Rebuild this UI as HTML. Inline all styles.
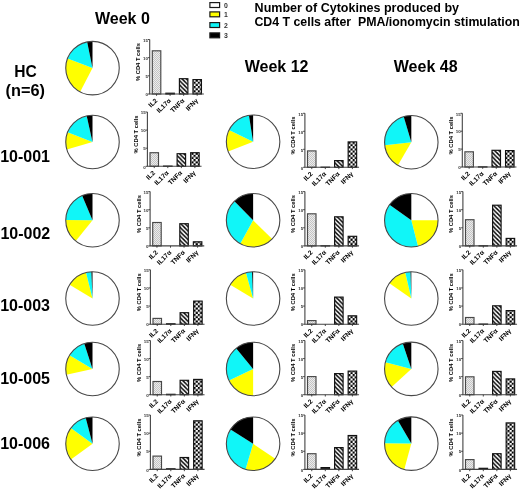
<!DOCTYPE html>
<html><head><meta charset="utf-8"><style>
html,body{margin:0;padding:0;background:#fff;}
svg{display:block;font-family:"Liberation Sans",sans-serif;will-change:transform;}
</style></head><body>
<svg width="520" height="489" viewBox="0 0 520 489">
<defs>
<pattern id="pIL2" width="2" height="2" patternUnits="userSpaceOnUse"><rect width="2" height="2" fill="#ececec"/><rect width="1" height="1" fill="#c4c4c4"/><rect x="1" y="1" width="1" height="1" fill="#c4c4c4"/></pattern>
<pattern id="pTNF" width="4.3" height="4.3" patternUnits="userSpaceOnUse"><rect width="4.3" height="4.3" fill="#fff"/><path d="M-1,-1 L5.3,5.3 M-1,3.3 L1,5.3 M3.3,-1 L5.3,1" stroke="#000" stroke-width="1.38"/></pattern>
<pattern id="pIFN" width="4.3" height="4.3" patternUnits="userSpaceOnUse"><rect width="4.3" height="4.3" fill="#fff"/><rect width="2.15" height="2.15" fill="#000"/><rect x="2.15" y="2.15" width="2.15" height="2.15" fill="#000"/></pattern>
</defs>
<rect width="520" height="489" fill="#fff"/>
<circle cx="92.5" cy="68.1" r="26.75" fill="#fff"/><path d="M92.50,68.10L80.19,91.85A26.75,26.75 0 0 1 67.53,58.51Z" fill="#ffff00"/><path d="M92.50,68.10L67.53,58.51A26.75,26.75 0 0 1 87.17,41.89Z" fill="#10f6f8"/><path d="M92.50,68.10L87.17,41.89A26.75,26.75 0 0 1 92.50,41.35Z" fill="#000000"/><circle cx="92.5" cy="68.1" r="26.75" fill="none" stroke="#484848" stroke-width="1.1"/><circle cx="92.5" cy="142.0" r="26.75" fill="#fff"/><path d="M92.50,142.00L66.84,149.55A26.75,26.75 0 0 1 67.63,132.15Z" fill="#ffff00"/><path d="M92.50,142.00L67.63,132.15A26.75,26.75 0 0 1 86.71,115.88Z" fill="#10f6f8"/><path d="M92.50,142.00L86.71,115.88A26.75,26.75 0 0 1 92.50,115.25Z" fill="#000000"/><circle cx="92.5" cy="142.0" r="26.75" fill="none" stroke="#484848" stroke-width="1.1"/><circle cx="92.5" cy="220.2" r="26.75" fill="#fff"/><path d="M92.50,220.20L75.77,241.08A26.75,26.75 0 0 1 65.75,219.92Z" fill="#ffff00"/><path d="M92.50,220.20L65.75,219.92A26.75,26.75 0 0 1 82.09,195.56Z" fill="#10f6f8"/><path d="M92.50,220.20L82.09,195.56A26.75,26.75 0 0 1 92.50,193.45Z" fill="#000000"/><circle cx="92.5" cy="220.2" r="26.75" fill="none" stroke="#484848" stroke-width="1.1"/><circle cx="92.5" cy="298.5" r="26.75" fill="#fff"/><path d="M92.50,298.50L69.62,284.64A26.75,26.75 0 0 1 86.03,272.54Z" fill="#ffff00"/><path d="M92.50,298.50L86.03,272.54A26.75,26.75 0 0 1 91.38,271.77Z" fill="#10f6f8"/><path d="M92.50,298.50L91.38,271.77A26.75,26.75 0 0 1 92.50,271.75Z" fill="#000000"/><circle cx="92.5" cy="298.5" r="26.75" fill="none" stroke="#484848" stroke-width="1.1"/><circle cx="92.5" cy="369.0" r="26.75" fill="#fff"/><path d="M92.50,369.00L66.37,374.74A26.75,26.75 0 0 1 69.62,355.14Z" fill="#ffff00"/><path d="M92.50,369.00L69.62,355.14A26.75,26.75 0 0 1 84.23,343.56Z" fill="#10f6f8"/><path d="M92.50,369.00L84.23,343.56A26.75,26.75 0 0 1 92.50,342.25Z" fill="#000000"/><circle cx="92.5" cy="369.0" r="26.75" fill="none" stroke="#484848" stroke-width="1.1"/><circle cx="92.5" cy="443.7" r="26.75" fill="#fff"/><path d="M92.50,443.70L70.89,459.46A26.75,26.75 0 0 1 70.83,428.01Z" fill="#ffff00"/><path d="M92.50,443.70L70.83,428.01A26.75,26.75 0 0 1 85.67,417.84Z" fill="#10f6f8"/><path d="M92.50,443.70L85.67,417.84A26.75,26.75 0 0 1 92.50,416.95Z" fill="#000000"/><circle cx="92.5" cy="443.7" r="26.75" fill="none" stroke="#484848" stroke-width="1.1"/><circle cx="253.1" cy="141.7" r="26.75" fill="#fff"/><path d="M253.10,141.70L228.21,151.50A26.75,26.75 0 0 1 229.04,130.02Z" fill="#ffff00"/><path d="M253.10,141.70L229.04,130.02A26.75,26.75 0 0 1 248.92,115.28Z" fill="#10f6f8"/><path d="M253.10,141.70L248.92,115.28A26.75,26.75 0 0 1 253.10,114.95Z" fill="#000000"/><circle cx="253.1" cy="141.7" r="26.75" fill="none" stroke="#484848" stroke-width="1.1"/><circle cx="253.1" cy="220.3" r="26.75" fill="#fff"/><path d="M253.10,220.30L272.24,238.98A26.75,26.75 0 0 1 240.25,243.76Z" fill="#ffff00"/><path d="M253.10,220.30L240.25,243.76A26.75,26.75 0 0 1 234.42,201.16Z" fill="#10f6f8"/><path d="M253.10,220.30L234.42,201.16A26.75,26.75 0 0 1 253.10,193.55Z" fill="#000000"/><circle cx="253.1" cy="220.3" r="26.75" fill="none" stroke="#484848" stroke-width="1.1"/><circle cx="253.1" cy="298.5" r="26.75" fill="#fff"/><path d="M253.10,298.50L230.22,284.64A26.75,26.75 0 0 1 245.95,272.72Z" fill="#ffff00"/><path d="M253.10,298.50L245.95,272.72A26.75,26.75 0 0 1 252.07,271.77Z" fill="#10f6f8"/><path d="M253.10,298.50L252.07,271.77A26.75,26.75 0 0 1 253.10,271.75Z" fill="#000000"/><circle cx="253.1" cy="298.5" r="26.75" fill="none" stroke="#484848" stroke-width="1.1"/><circle cx="253.1" cy="369.0" r="26.75" fill="#fff"/><path d="M253.10,369.00L253.10,395.75A26.75,26.75 0 0 1 229.00,380.60Z" fill="#ffff00"/><path d="M253.10,369.00L229.00,380.60A26.75,26.75 0 0 1 236.08,348.36Z" fill="#10f6f8"/><path d="M253.10,369.00L236.08,348.36A26.75,26.75 0 0 1 253.10,342.25Z" fill="#000000"/><circle cx="253.1" cy="369.0" r="26.75" fill="none" stroke="#484848" stroke-width="1.1"/><circle cx="253.1" cy="443.8" r="26.75" fill="#fff"/><path d="M253.10,443.80L275.28,458.76A26.75,26.75 0 0 1 245.50,469.45Z" fill="#ffff00"/><path d="M253.10,443.80L245.50,469.45A26.75,26.75 0 0 1 230.54,429.43Z" fill="#10f6f8"/><path d="M253.10,443.80L230.54,429.43A26.75,26.75 0 0 1 253.10,417.05Z" fill="#000000"/><circle cx="253.1" cy="443.8" r="26.75" fill="none" stroke="#484848" stroke-width="1.1"/><circle cx="411.3" cy="142.2" r="26.75" fill="#fff"/><path d="M411.30,142.20L397.93,165.37A26.75,26.75 0 0 1 384.74,145.37Z" fill="#ffff00"/><path d="M411.30,142.20L384.74,145.37A26.75,26.75 0 0 1 403.66,116.56Z" fill="#10f6f8"/><path d="M411.30,142.20L403.66,116.56A26.75,26.75 0 0 1 411.30,115.45Z" fill="#000000"/><circle cx="411.3" cy="142.2" r="26.75" fill="none" stroke="#484848" stroke-width="1.1"/><circle cx="411.3" cy="220.3" r="26.75" fill="#fff"/><path d="M411.30,220.30L438.05,220.30A26.75,26.75 0 0 1 417.95,246.21Z" fill="#ffff00"/><path d="M411.30,220.30L417.95,246.21A26.75,26.75 0 0 1 389.50,204.80Z" fill="#10f6f8"/><path d="M411.30,220.30L389.50,204.80A26.75,26.75 0 0 1 411.30,193.55Z" fill="#000000"/><circle cx="411.3" cy="220.3" r="26.75" fill="none" stroke="#484848" stroke-width="1.1"/><circle cx="411.3" cy="298.5" r="26.75" fill="#fff"/><path d="M411.30,298.50L389.39,283.16A26.75,26.75 0 0 1 405.28,272.44Z" fill="#ffff00"/><path d="M411.30,298.50L405.28,272.44A26.75,26.75 0 0 1 410.55,271.76Z" fill="#10f6f8"/><path d="M411.30,298.50L410.55,271.76A26.75,26.75 0 0 1 411.30,271.75Z" fill="#000000"/><circle cx="411.3" cy="298.5" r="26.75" fill="none" stroke="#484848" stroke-width="1.1"/><circle cx="411.3" cy="368.9" r="26.75" fill="#fff"/><path d="M411.30,368.90L391.64,387.04A26.75,26.75 0 0 1 385.41,362.16Z" fill="#ffff00"/><path d="M411.30,368.90L385.41,362.16A26.75,26.75 0 0 1 402.77,343.55Z" fill="#10f6f8"/><path d="M411.30,368.90L402.77,343.55A26.75,26.75 0 0 1 411.30,342.15Z" fill="#000000"/><circle cx="411.3" cy="368.9" r="26.75" fill="none" stroke="#484848" stroke-width="1.1"/><circle cx="411.3" cy="443.6" r="26.75" fill="#fff"/><path d="M411.30,443.60L404.24,469.40A26.75,26.75 0 0 1 384.55,443.32Z" fill="#ffff00"/><path d="M411.30,443.60L384.55,443.32A26.75,26.75 0 0 1 397.84,420.48Z" fill="#10f6f8"/><path d="M411.30,443.60L397.84,420.48A26.75,26.75 0 0 1 411.30,416.85Z" fill="#000000"/><circle cx="411.3" cy="443.6" r="26.75" fill="none" stroke="#484848" stroke-width="1.1"/><rect x="152.30" y="50.80" width="8.50" height="43.20" fill="url(#pIL2)" stroke="#484848" stroke-width="1.15"/><rect x="165.85" y="93.20" width="8.50" height="0.80" fill="#222" stroke="#111" stroke-width="1.15"/><rect x="179.40" y="78.70" width="8.50" height="15.30" fill="url(#pTNF)" stroke="#111" stroke-width="1.15"/><rect x="192.95" y="79.60" width="8.50" height="14.40" fill="url(#pIFN)" stroke="#111" stroke-width="1.15"/><path d="M149.70,39.50V94.00H203.85" fill="none" stroke="#444" stroke-width="1.1"/><path d="M147.90,94.00H149.70" stroke="#333" stroke-width="0.9"/><text transform="translate(148.00,96.20) scale(0.1)" font-size="44" text-anchor="end" font-weight="bold" fill="#333">0</text><path d="M147.90,75.83H149.70" stroke="#333" stroke-width="0.9"/><text transform="translate(148.00,78.03) scale(0.1)" font-size="44" text-anchor="end" font-weight="bold" fill="#333">5</text><path d="M147.90,57.67H149.70" stroke="#333" stroke-width="0.9"/><text transform="translate(148.00,59.87) scale(0.1)" font-size="44" text-anchor="end" font-weight="bold" fill="#333">10</text><path d="M147.90,39.50H149.70" stroke="#333" stroke-width="0.9"/><text transform="translate(148.00,41.70) scale(0.1)" font-size="44" text-anchor="end" font-weight="bold" fill="#333">15</text><path d="M156.55,94.00V95.80" stroke="#333" stroke-width="0.9"/><text transform="translate(157.85,101.10) rotate(-45)" font-size="6.6" text-anchor="end" font-weight="bold">IL2</text><path d="M170.10,94.00V95.80" stroke="#333" stroke-width="0.9"/><text transform="translate(171.40,101.10) rotate(-45)" font-size="6.6" text-anchor="end" font-weight="bold">IL17α</text><path d="M183.65,94.00V95.80" stroke="#333" stroke-width="0.9"/><text transform="translate(184.95,101.10) rotate(-45)" font-size="6.6" text-anchor="end" font-weight="bold">TNFα</text><path d="M197.20,94.00V95.80" stroke="#333" stroke-width="0.9"/><text transform="translate(198.50,101.10) rotate(-45)" font-size="6.6" text-anchor="end" font-weight="bold">IFNγ</text><text transform="translate(140.10,62.05) rotate(-90)" font-size="5.8" text-anchor="middle" font-weight="bold">% CD4 T cells</text><rect x="150.00" y="152.70" width="8.50" height="13.60" fill="url(#pIL2)" stroke="#484848" stroke-width="1.15"/><rect x="163.55" y="166.10" width="8.50" height="0.20" fill="#222" stroke="#111" stroke-width="1.15"/><rect x="177.10" y="153.70" width="8.50" height="12.60" fill="url(#pTNF)" stroke="#111" stroke-width="1.15"/><rect x="190.65" y="152.70" width="8.50" height="13.60" fill="url(#pIFN)" stroke="#111" stroke-width="1.15"/><path d="M147.40,112.00V166.30H201.55" fill="none" stroke="#444" stroke-width="1.1"/><path d="M145.60,166.30H147.40" stroke="#333" stroke-width="0.9"/><text transform="translate(145.70,168.50) scale(0.1)" font-size="44" text-anchor="end" font-weight="bold" fill="#333">0</text><path d="M145.60,148.20H147.40" stroke="#333" stroke-width="0.9"/><text transform="translate(145.70,150.40) scale(0.1)" font-size="44" text-anchor="end" font-weight="bold" fill="#333">5</text><path d="M145.60,130.10H147.40" stroke="#333" stroke-width="0.9"/><text transform="translate(145.70,132.30) scale(0.1)" font-size="44" text-anchor="end" font-weight="bold" fill="#333">10</text><path d="M145.60,112.00H147.40" stroke="#333" stroke-width="0.9"/><text transform="translate(145.70,114.20) scale(0.1)" font-size="44" text-anchor="end" font-weight="bold" fill="#333">15</text><path d="M154.25,166.30V168.10" stroke="#333" stroke-width="0.9"/><text transform="translate(155.55,173.40) rotate(-45)" font-size="6.6" text-anchor="end" font-weight="bold">IL2</text><path d="M167.80,166.30V168.10" stroke="#333" stroke-width="0.9"/><text transform="translate(169.10,173.40) rotate(-45)" font-size="6.6" text-anchor="end" font-weight="bold">IL17α</text><path d="M181.35,166.30V168.10" stroke="#333" stroke-width="0.9"/><text transform="translate(182.65,173.40) rotate(-45)" font-size="6.6" text-anchor="end" font-weight="bold">TNFα</text><path d="M194.90,166.30V168.10" stroke="#333" stroke-width="0.9"/><text transform="translate(196.20,173.40) rotate(-45)" font-size="6.6" text-anchor="end" font-weight="bold">IFNγ</text><text transform="translate(137.80,134.45) rotate(-90)" font-size="5.8" text-anchor="middle" font-weight="bold">% CD4 T cells</text><rect x="152.70" y="222.50" width="8.50" height="23.40" fill="url(#pIL2)" stroke="#484848" stroke-width="1.15"/><rect x="179.80" y="223.70" width="8.50" height="22.20" fill="url(#pTNF)" stroke="#111" stroke-width="1.15"/><rect x="193.35" y="241.80" width="8.50" height="4.10" fill="url(#pIFN)" stroke="#111" stroke-width="1.15"/><path d="M150.10,191.60V245.90H204.25" fill="none" stroke="#444" stroke-width="1.1"/><path d="M148.30,245.90H150.10" stroke="#333" stroke-width="0.9"/><text transform="translate(148.40,248.10) scale(0.1)" font-size="44" text-anchor="end" font-weight="bold" fill="#333">0</text><path d="M148.30,227.80H150.10" stroke="#333" stroke-width="0.9"/><text transform="translate(148.40,230.00) scale(0.1)" font-size="44" text-anchor="end" font-weight="bold" fill="#333">5</text><path d="M148.30,209.70H150.10" stroke="#333" stroke-width="0.9"/><text transform="translate(148.40,211.90) scale(0.1)" font-size="44" text-anchor="end" font-weight="bold" fill="#333">10</text><path d="M148.30,191.60H150.10" stroke="#333" stroke-width="0.9"/><text transform="translate(148.40,193.80) scale(0.1)" font-size="44" text-anchor="end" font-weight="bold" fill="#333">15</text><path d="M156.95,245.90V247.70" stroke="#333" stroke-width="0.9"/><text transform="translate(158.25,253.00) rotate(-45)" font-size="6.6" text-anchor="end" font-weight="bold">IL2</text><path d="M170.50,245.90V247.70" stroke="#333" stroke-width="0.9"/><text transform="translate(171.80,253.00) rotate(-45)" font-size="6.6" text-anchor="end" font-weight="bold">IL17α</text><path d="M184.05,245.90V247.70" stroke="#333" stroke-width="0.9"/><text transform="translate(185.35,253.00) rotate(-45)" font-size="6.6" text-anchor="end" font-weight="bold">TNFα</text><path d="M197.60,245.90V247.70" stroke="#333" stroke-width="0.9"/><text transform="translate(198.90,253.00) rotate(-45)" font-size="6.6" text-anchor="end" font-weight="bold">IFNγ</text><text transform="translate(140.50,214.05) rotate(-90)" font-size="5.8" text-anchor="middle" font-weight="bold">% CD4 T cells</text><rect x="153.00" y="318.40" width="8.50" height="5.80" fill="url(#pIL2)" stroke="#484848" stroke-width="1.15"/><rect x="166.55" y="323.80" width="8.50" height="0.40" fill="#222" stroke="#111" stroke-width="1.15"/><rect x="180.10" y="312.70" width="8.50" height="11.50" fill="url(#pTNF)" stroke="#111" stroke-width="1.15"/><rect x="193.65" y="301.10" width="8.50" height="23.10" fill="url(#pIFN)" stroke="#111" stroke-width="1.15"/><path d="M150.40,269.80V324.20H204.55" fill="none" stroke="#444" stroke-width="1.1"/><path d="M148.60,324.20H150.40" stroke="#333" stroke-width="0.9"/><text transform="translate(148.70,326.40) scale(0.1)" font-size="44" text-anchor="end" font-weight="bold" fill="#333">0</text><path d="M148.60,306.07H150.40" stroke="#333" stroke-width="0.9"/><text transform="translate(148.70,308.27) scale(0.1)" font-size="44" text-anchor="end" font-weight="bold" fill="#333">5</text><path d="M148.60,287.93H150.40" stroke="#333" stroke-width="0.9"/><text transform="translate(148.70,290.13) scale(0.1)" font-size="44" text-anchor="end" font-weight="bold" fill="#333">10</text><path d="M148.60,269.80H150.40" stroke="#333" stroke-width="0.9"/><text transform="translate(148.70,272.00) scale(0.1)" font-size="44" text-anchor="end" font-weight="bold" fill="#333">15</text><path d="M157.25,324.20V326.00" stroke="#333" stroke-width="0.9"/><text transform="translate(158.55,331.30) rotate(-45)" font-size="6.6" text-anchor="end" font-weight="bold">IL2</text><path d="M170.80,324.20V326.00" stroke="#333" stroke-width="0.9"/><text transform="translate(172.10,331.30) rotate(-45)" font-size="6.6" text-anchor="end" font-weight="bold">IL17α</text><path d="M184.35,324.20V326.00" stroke="#333" stroke-width="0.9"/><text transform="translate(185.65,331.30) rotate(-45)" font-size="6.6" text-anchor="end" font-weight="bold">TNFα</text><path d="M197.90,324.20V326.00" stroke="#333" stroke-width="0.9"/><text transform="translate(199.20,331.30) rotate(-45)" font-size="6.6" text-anchor="end" font-weight="bold">IFNγ</text><text transform="translate(140.80,292.30) rotate(-90)" font-size="5.8" text-anchor="middle" font-weight="bold">% CD4 T cells</text><rect x="153.00" y="381.50" width="8.50" height="13.20" fill="url(#pIL2)" stroke="#484848" stroke-width="1.15"/><rect x="166.55" y="394.30" width="8.50" height="0.40" fill="#222" stroke="#111" stroke-width="1.15"/><rect x="180.10" y="380.30" width="8.50" height="14.40" fill="url(#pTNF)" stroke="#111" stroke-width="1.15"/><rect x="193.65" y="379.40" width="8.50" height="15.30" fill="url(#pIFN)" stroke="#111" stroke-width="1.15"/><path d="M150.40,340.50V394.70H204.55" fill="none" stroke="#444" stroke-width="1.1"/><path d="M148.60,394.70H150.40" stroke="#333" stroke-width="0.9"/><text transform="translate(148.70,396.90) scale(0.1)" font-size="44" text-anchor="end" font-weight="bold" fill="#333">0</text><path d="M148.60,376.63H150.40" stroke="#333" stroke-width="0.9"/><text transform="translate(148.70,378.83) scale(0.1)" font-size="44" text-anchor="end" font-weight="bold" fill="#333">5</text><path d="M148.60,358.57H150.40" stroke="#333" stroke-width="0.9"/><text transform="translate(148.70,360.77) scale(0.1)" font-size="44" text-anchor="end" font-weight="bold" fill="#333">10</text><path d="M148.60,340.50H150.40" stroke="#333" stroke-width="0.9"/><text transform="translate(148.70,342.70) scale(0.1)" font-size="44" text-anchor="end" font-weight="bold" fill="#333">15</text><path d="M157.25,394.70V396.50" stroke="#333" stroke-width="0.9"/><text transform="translate(158.55,401.80) rotate(-45)" font-size="6.6" text-anchor="end" font-weight="bold">IL2</text><path d="M170.80,394.70V396.50" stroke="#333" stroke-width="0.9"/><text transform="translate(172.10,401.80) rotate(-45)" font-size="6.6" text-anchor="end" font-weight="bold">IL17α</text><path d="M184.35,394.70V396.50" stroke="#333" stroke-width="0.9"/><text transform="translate(185.65,401.80) rotate(-45)" font-size="6.6" text-anchor="end" font-weight="bold">TNFα</text><path d="M197.90,394.70V396.50" stroke="#333" stroke-width="0.9"/><text transform="translate(199.20,401.80) rotate(-45)" font-size="6.6" text-anchor="end" font-weight="bold">IFNγ</text><text transform="translate(140.80,362.90) rotate(-90)" font-size="5.8" text-anchor="middle" font-weight="bold">% CD4 T cells</text><rect x="153.00" y="456.10" width="8.50" height="13.30" fill="url(#pIL2)" stroke="#484848" stroke-width="1.15"/><rect x="166.55" y="468.80" width="8.50" height="0.60" fill="#222" stroke="#111" stroke-width="1.15"/><rect x="180.10" y="457.50" width="8.50" height="11.90" fill="url(#pTNF)" stroke="#111" stroke-width="1.15"/><rect x="193.65" y="420.80" width="8.50" height="48.60" fill="url(#pIFN)" stroke="#111" stroke-width="1.15"/><path d="M150.40,415.00V469.40H204.55" fill="none" stroke="#444" stroke-width="1.1"/><path d="M148.60,469.40H150.40" stroke="#333" stroke-width="0.9"/><text transform="translate(148.70,471.60) scale(0.1)" font-size="44" text-anchor="end" font-weight="bold" fill="#333">0</text><path d="M148.60,451.27H150.40" stroke="#333" stroke-width="0.9"/><text transform="translate(148.70,453.47) scale(0.1)" font-size="44" text-anchor="end" font-weight="bold" fill="#333">5</text><path d="M148.60,433.13H150.40" stroke="#333" stroke-width="0.9"/><text transform="translate(148.70,435.33) scale(0.1)" font-size="44" text-anchor="end" font-weight="bold" fill="#333">10</text><path d="M148.60,415.00H150.40" stroke="#333" stroke-width="0.9"/><text transform="translate(148.70,417.20) scale(0.1)" font-size="44" text-anchor="end" font-weight="bold" fill="#333">15</text><path d="M157.25,469.40V471.20" stroke="#333" stroke-width="0.9"/><text transform="translate(158.55,476.50) rotate(-45)" font-size="6.6" text-anchor="end" font-weight="bold">IL2</text><path d="M170.80,469.40V471.20" stroke="#333" stroke-width="0.9"/><text transform="translate(172.10,476.50) rotate(-45)" font-size="6.6" text-anchor="end" font-weight="bold">IL17α</text><path d="M184.35,469.40V471.20" stroke="#333" stroke-width="0.9"/><text transform="translate(185.65,476.50) rotate(-45)" font-size="6.6" text-anchor="end" font-weight="bold">TNFα</text><path d="M197.90,469.40V471.20" stroke="#333" stroke-width="0.9"/><text transform="translate(199.20,476.50) rotate(-45)" font-size="6.6" text-anchor="end" font-weight="bold">IFNγ</text><text transform="translate(140.80,437.50) rotate(-90)" font-size="5.8" text-anchor="middle" font-weight="bold">% CD4 T cells</text><rect x="307.50" y="150.90" width="8.50" height="16.40" fill="url(#pIL2)" stroke="#484848" stroke-width="1.15"/><rect x="321.05" y="167.20" width="8.50" height="0.10" fill="#222" stroke="#111" stroke-width="1.15"/><rect x="334.60" y="160.60" width="8.50" height="6.70" fill="url(#pTNF)" stroke="#111" stroke-width="1.15"/><rect x="348.15" y="141.90" width="8.50" height="25.40" fill="url(#pIFN)" stroke="#111" stroke-width="1.15"/><path d="M304.90,113.30V167.30H359.05" fill="none" stroke="#444" stroke-width="1.1"/><path d="M303.10,167.30H304.90" stroke="#333" stroke-width="0.9"/><text transform="translate(303.20,169.50) scale(0.1)" font-size="44" text-anchor="end" font-weight="bold" fill="#333">0</text><path d="M303.10,149.30H304.90" stroke="#333" stroke-width="0.9"/><text transform="translate(303.20,151.50) scale(0.1)" font-size="44" text-anchor="end" font-weight="bold" fill="#333">5</text><path d="M303.10,131.30H304.90" stroke="#333" stroke-width="0.9"/><text transform="translate(303.20,133.50) scale(0.1)" font-size="44" text-anchor="end" font-weight="bold" fill="#333">10</text><path d="M303.10,113.30H304.90" stroke="#333" stroke-width="0.9"/><text transform="translate(303.20,115.50) scale(0.1)" font-size="44" text-anchor="end" font-weight="bold" fill="#333">15</text><path d="M311.75,167.30V169.10" stroke="#333" stroke-width="0.9"/><text transform="translate(313.05,174.40) rotate(-45)" font-size="6.6" text-anchor="end" font-weight="bold">IL2</text><path d="M325.30,167.30V169.10" stroke="#333" stroke-width="0.9"/><text transform="translate(326.60,174.40) rotate(-45)" font-size="6.6" text-anchor="end" font-weight="bold">IL17α</text><path d="M338.85,167.30V169.10" stroke="#333" stroke-width="0.9"/><text transform="translate(340.15,174.40) rotate(-45)" font-size="6.6" text-anchor="end" font-weight="bold">TNFα</text><path d="M352.40,167.30V169.10" stroke="#333" stroke-width="0.9"/><text transform="translate(353.70,174.40) rotate(-45)" font-size="6.6" text-anchor="end" font-weight="bold">IFNγ</text><text transform="translate(295.30,135.60) rotate(-90)" font-size="5.8" text-anchor="middle" font-weight="bold">% CD4 T cells</text><rect x="307.50" y="213.80" width="8.50" height="32.10" fill="url(#pIL2)" stroke="#484848" stroke-width="1.15"/><rect x="321.05" y="245.80" width="8.50" height="0.10" fill="#222" stroke="#111" stroke-width="1.15"/><rect x="334.60" y="216.80" width="8.50" height="29.10" fill="url(#pTNF)" stroke="#111" stroke-width="1.15"/><rect x="348.15" y="236.30" width="8.50" height="9.60" fill="url(#pIFN)" stroke="#111" stroke-width="1.15"/><path d="M304.90,191.60V245.90H359.05" fill="none" stroke="#444" stroke-width="1.1"/><path d="M303.10,245.90H304.90" stroke="#333" stroke-width="0.9"/><text transform="translate(303.20,248.10) scale(0.1)" font-size="44" text-anchor="end" font-weight="bold" fill="#333">0</text><path d="M303.10,227.80H304.90" stroke="#333" stroke-width="0.9"/><text transform="translate(303.20,230.00) scale(0.1)" font-size="44" text-anchor="end" font-weight="bold" fill="#333">5</text><path d="M303.10,209.70H304.90" stroke="#333" stroke-width="0.9"/><text transform="translate(303.20,211.90) scale(0.1)" font-size="44" text-anchor="end" font-weight="bold" fill="#333">10</text><path d="M303.10,191.60H304.90" stroke="#333" stroke-width="0.9"/><text transform="translate(303.20,193.80) scale(0.1)" font-size="44" text-anchor="end" font-weight="bold" fill="#333">15</text><path d="M311.75,245.90V247.70" stroke="#333" stroke-width="0.9"/><text transform="translate(313.05,253.00) rotate(-45)" font-size="6.6" text-anchor="end" font-weight="bold">IL2</text><path d="M325.30,245.90V247.70" stroke="#333" stroke-width="0.9"/><text transform="translate(326.60,253.00) rotate(-45)" font-size="6.6" text-anchor="end" font-weight="bold">IL17α</text><path d="M338.85,245.90V247.70" stroke="#333" stroke-width="0.9"/><text transform="translate(340.15,253.00) rotate(-45)" font-size="6.6" text-anchor="end" font-weight="bold">TNFα</text><path d="M352.40,245.90V247.70" stroke="#333" stroke-width="0.9"/><text transform="translate(353.70,253.00) rotate(-45)" font-size="6.6" text-anchor="end" font-weight="bold">IFNγ</text><text transform="translate(295.30,214.05) rotate(-90)" font-size="5.8" text-anchor="middle" font-weight="bold">% CD4 T cells</text><rect x="307.50" y="320.60" width="8.50" height="3.60" fill="url(#pIL2)" stroke="#484848" stroke-width="1.15"/><rect x="334.60" y="297.10" width="8.50" height="27.10" fill="url(#pTNF)" stroke="#111" stroke-width="1.15"/><rect x="348.15" y="315.80" width="8.50" height="8.40" fill="url(#pIFN)" stroke="#111" stroke-width="1.15"/><path d="M304.90,269.80V324.20H359.05" fill="none" stroke="#444" stroke-width="1.1"/><path d="M303.10,324.20H304.90" stroke="#333" stroke-width="0.9"/><text transform="translate(303.20,326.40) scale(0.1)" font-size="44" text-anchor="end" font-weight="bold" fill="#333">0</text><path d="M303.10,306.07H304.90" stroke="#333" stroke-width="0.9"/><text transform="translate(303.20,308.27) scale(0.1)" font-size="44" text-anchor="end" font-weight="bold" fill="#333">5</text><path d="M303.10,287.93H304.90" stroke="#333" stroke-width="0.9"/><text transform="translate(303.20,290.13) scale(0.1)" font-size="44" text-anchor="end" font-weight="bold" fill="#333">10</text><path d="M303.10,269.80H304.90" stroke="#333" stroke-width="0.9"/><text transform="translate(303.20,272.00) scale(0.1)" font-size="44" text-anchor="end" font-weight="bold" fill="#333">15</text><path d="M311.75,324.20V326.00" stroke="#333" stroke-width="0.9"/><text transform="translate(313.05,331.30) rotate(-45)" font-size="6.6" text-anchor="end" font-weight="bold">IL2</text><path d="M325.30,324.20V326.00" stroke="#333" stroke-width="0.9"/><text transform="translate(326.60,331.30) rotate(-45)" font-size="6.6" text-anchor="end" font-weight="bold">IL17α</text><path d="M338.85,324.20V326.00" stroke="#333" stroke-width="0.9"/><text transform="translate(340.15,331.30) rotate(-45)" font-size="6.6" text-anchor="end" font-weight="bold">TNFα</text><path d="M352.40,324.20V326.00" stroke="#333" stroke-width="0.9"/><text transform="translate(353.70,331.30) rotate(-45)" font-size="6.6" text-anchor="end" font-weight="bold">IFNγ</text><text transform="translate(295.30,292.30) rotate(-90)" font-size="5.8" text-anchor="middle" font-weight="bold">% CD4 T cells</text><rect x="307.50" y="376.60" width="8.50" height="18.10" fill="url(#pIL2)" stroke="#484848" stroke-width="1.15"/><rect x="334.60" y="373.60" width="8.50" height="21.10" fill="url(#pTNF)" stroke="#111" stroke-width="1.15"/><rect x="348.15" y="371.10" width="8.50" height="23.60" fill="url(#pIFN)" stroke="#111" stroke-width="1.15"/><path d="M304.90,340.50V394.70H359.05" fill="none" stroke="#444" stroke-width="1.1"/><path d="M303.10,394.70H304.90" stroke="#333" stroke-width="0.9"/><text transform="translate(303.20,396.90) scale(0.1)" font-size="44" text-anchor="end" font-weight="bold" fill="#333">0</text><path d="M303.10,376.63H304.90" stroke="#333" stroke-width="0.9"/><text transform="translate(303.20,378.83) scale(0.1)" font-size="44" text-anchor="end" font-weight="bold" fill="#333">5</text><path d="M303.10,358.57H304.90" stroke="#333" stroke-width="0.9"/><text transform="translate(303.20,360.77) scale(0.1)" font-size="44" text-anchor="end" font-weight="bold" fill="#333">10</text><path d="M303.10,340.50H304.90" stroke="#333" stroke-width="0.9"/><text transform="translate(303.20,342.70) scale(0.1)" font-size="44" text-anchor="end" font-weight="bold" fill="#333">15</text><path d="M311.75,394.70V396.50" stroke="#333" stroke-width="0.9"/><text transform="translate(313.05,401.80) rotate(-45)" font-size="6.6" text-anchor="end" font-weight="bold">IL2</text><path d="M325.30,394.70V396.50" stroke="#333" stroke-width="0.9"/><text transform="translate(326.60,401.80) rotate(-45)" font-size="6.6" text-anchor="end" font-weight="bold">IL17α</text><path d="M338.85,394.70V396.50" stroke="#333" stroke-width="0.9"/><text transform="translate(340.15,401.80) rotate(-45)" font-size="6.6" text-anchor="end" font-weight="bold">TNFα</text><path d="M352.40,394.70V396.50" stroke="#333" stroke-width="0.9"/><text transform="translate(353.70,401.80) rotate(-45)" font-size="6.6" text-anchor="end" font-weight="bold">IFNγ</text><text transform="translate(295.30,362.90) rotate(-90)" font-size="5.8" text-anchor="middle" font-weight="bold">% CD4 T cells</text><rect x="307.50" y="453.70" width="8.50" height="15.70" fill="url(#pIL2)" stroke="#484848" stroke-width="1.15"/><rect x="321.05" y="467.60" width="8.50" height="1.80" fill="#222" stroke="#111" stroke-width="1.15"/><rect x="334.60" y="447.60" width="8.50" height="21.80" fill="url(#pTNF)" stroke="#111" stroke-width="1.15"/><rect x="348.15" y="435.50" width="8.50" height="33.90" fill="url(#pIFN)" stroke="#111" stroke-width="1.15"/><path d="M304.90,415.00V469.40H359.05" fill="none" stroke="#444" stroke-width="1.1"/><path d="M303.10,469.40H304.90" stroke="#333" stroke-width="0.9"/><text transform="translate(303.20,471.60) scale(0.1)" font-size="44" text-anchor="end" font-weight="bold" fill="#333">0</text><path d="M303.10,451.27H304.90" stroke="#333" stroke-width="0.9"/><text transform="translate(303.20,453.47) scale(0.1)" font-size="44" text-anchor="end" font-weight="bold" fill="#333">5</text><path d="M303.10,433.13H304.90" stroke="#333" stroke-width="0.9"/><text transform="translate(303.20,435.33) scale(0.1)" font-size="44" text-anchor="end" font-weight="bold" fill="#333">10</text><path d="M303.10,415.00H304.90" stroke="#333" stroke-width="0.9"/><text transform="translate(303.20,417.20) scale(0.1)" font-size="44" text-anchor="end" font-weight="bold" fill="#333">15</text><path d="M311.75,469.40V471.20" stroke="#333" stroke-width="0.9"/><text transform="translate(313.05,476.50) rotate(-45)" font-size="6.6" text-anchor="end" font-weight="bold">IL2</text><path d="M325.30,469.40V471.20" stroke="#333" stroke-width="0.9"/><text transform="translate(326.60,476.50) rotate(-45)" font-size="6.6" text-anchor="end" font-weight="bold">IL17α</text><path d="M338.85,469.40V471.20" stroke="#333" stroke-width="0.9"/><text transform="translate(340.15,476.50) rotate(-45)" font-size="6.6" text-anchor="end" font-weight="bold">TNFα</text><path d="M352.40,469.40V471.20" stroke="#333" stroke-width="0.9"/><text transform="translate(353.70,476.50) rotate(-45)" font-size="6.6" text-anchor="end" font-weight="bold">IFNγ</text><text transform="translate(295.30,437.50) rotate(-90)" font-size="5.8" text-anchor="middle" font-weight="bold">% CD4 T cells</text><rect x="464.90" y="151.80" width="8.50" height="15.20" fill="url(#pIL2)" stroke="#484848" stroke-width="1.15"/><rect x="478.45" y="166.90" width="8.50" height="0.10" fill="#222" stroke="#111" stroke-width="1.15"/><rect x="492.00" y="150.30" width="8.50" height="16.70" fill="url(#pTNF)" stroke="#111" stroke-width="1.15"/><rect x="505.55" y="150.60" width="8.50" height="16.40" fill="url(#pIFN)" stroke="#111" stroke-width="1.15"/><path d="M462.30,113.30V167.00H516.45" fill="none" stroke="#444" stroke-width="1.1"/><path d="M460.50,167.00H462.30" stroke="#333" stroke-width="0.9"/><text transform="translate(460.60,169.20) scale(0.1)" font-size="44" text-anchor="end" font-weight="bold" fill="#333">0</text><path d="M460.50,149.10H462.30" stroke="#333" stroke-width="0.9"/><text transform="translate(460.60,151.30) scale(0.1)" font-size="44" text-anchor="end" font-weight="bold" fill="#333">5</text><path d="M460.50,131.20H462.30" stroke="#333" stroke-width="0.9"/><text transform="translate(460.60,133.40) scale(0.1)" font-size="44" text-anchor="end" font-weight="bold" fill="#333">10</text><path d="M460.50,113.30H462.30" stroke="#333" stroke-width="0.9"/><text transform="translate(460.60,115.50) scale(0.1)" font-size="44" text-anchor="end" font-weight="bold" fill="#333">15</text><path d="M469.15,167.00V168.80" stroke="#333" stroke-width="0.9"/><text transform="translate(470.45,174.10) rotate(-45)" font-size="6.6" text-anchor="end" font-weight="bold">IL2</text><path d="M482.70,167.00V168.80" stroke="#333" stroke-width="0.9"/><text transform="translate(484.00,174.10) rotate(-45)" font-size="6.6" text-anchor="end" font-weight="bold">IL17α</text><path d="M496.25,167.00V168.80" stroke="#333" stroke-width="0.9"/><text transform="translate(497.55,174.10) rotate(-45)" font-size="6.6" text-anchor="end" font-weight="bold">TNFα</text><path d="M509.80,167.00V168.80" stroke="#333" stroke-width="0.9"/><text transform="translate(511.10,174.10) rotate(-45)" font-size="6.6" text-anchor="end" font-weight="bold">IFNγ</text><text transform="translate(452.70,135.45) rotate(-90)" font-size="5.8" text-anchor="middle" font-weight="bold">% CD4 T cells</text><rect x="465.50" y="219.70" width="8.50" height="26.20" fill="url(#pIL2)" stroke="#484848" stroke-width="1.15"/><rect x="479.05" y="245.80" width="8.50" height="0.10" fill="#222" stroke="#111" stroke-width="1.15"/><rect x="492.60" y="205.20" width="8.50" height="40.70" fill="url(#pTNF)" stroke="#111" stroke-width="1.15"/><rect x="506.15" y="238.40" width="8.50" height="7.50" fill="url(#pIFN)" stroke="#111" stroke-width="1.15"/><path d="M462.90,191.60V245.90H517.05" fill="none" stroke="#444" stroke-width="1.1"/><path d="M461.10,245.90H462.90" stroke="#333" stroke-width="0.9"/><text transform="translate(461.20,248.10) scale(0.1)" font-size="44" text-anchor="end" font-weight="bold" fill="#333">0</text><path d="M461.10,227.80H462.90" stroke="#333" stroke-width="0.9"/><text transform="translate(461.20,230.00) scale(0.1)" font-size="44" text-anchor="end" font-weight="bold" fill="#333">5</text><path d="M461.10,209.70H462.90" stroke="#333" stroke-width="0.9"/><text transform="translate(461.20,211.90) scale(0.1)" font-size="44" text-anchor="end" font-weight="bold" fill="#333">10</text><path d="M461.10,191.60H462.90" stroke="#333" stroke-width="0.9"/><text transform="translate(461.20,193.80) scale(0.1)" font-size="44" text-anchor="end" font-weight="bold" fill="#333">15</text><path d="M469.75,245.90V247.70" stroke="#333" stroke-width="0.9"/><text transform="translate(471.05,253.00) rotate(-45)" font-size="6.6" text-anchor="end" font-weight="bold">IL2</text><path d="M483.30,245.90V247.70" stroke="#333" stroke-width="0.9"/><text transform="translate(484.60,253.00) rotate(-45)" font-size="6.6" text-anchor="end" font-weight="bold">IL17α</text><path d="M496.85,245.90V247.70" stroke="#333" stroke-width="0.9"/><text transform="translate(498.15,253.00) rotate(-45)" font-size="6.6" text-anchor="end" font-weight="bold">TNFα</text><path d="M510.40,245.90V247.70" stroke="#333" stroke-width="0.9"/><text transform="translate(511.70,253.00) rotate(-45)" font-size="6.6" text-anchor="end" font-weight="bold">IFNγ</text><text transform="translate(453.30,214.05) rotate(-90)" font-size="5.8" text-anchor="middle" font-weight="bold">% CD4 T cells</text><rect x="465.50" y="317.50" width="8.50" height="6.70" fill="url(#pIL2)" stroke="#484848" stroke-width="1.15"/><rect x="479.05" y="324.10" width="8.50" height="0.10" fill="#222" stroke="#111" stroke-width="1.15"/><rect x="492.60" y="305.80" width="8.50" height="18.40" fill="url(#pTNF)" stroke="#111" stroke-width="1.15"/><rect x="506.15" y="310.60" width="8.50" height="13.60" fill="url(#pIFN)" stroke="#111" stroke-width="1.15"/><path d="M462.90,269.80V324.20H517.05" fill="none" stroke="#444" stroke-width="1.1"/><path d="M461.10,324.20H462.90" stroke="#333" stroke-width="0.9"/><text transform="translate(461.20,326.40) scale(0.1)" font-size="44" text-anchor="end" font-weight="bold" fill="#333">0</text><path d="M461.10,306.07H462.90" stroke="#333" stroke-width="0.9"/><text transform="translate(461.20,308.27) scale(0.1)" font-size="44" text-anchor="end" font-weight="bold" fill="#333">5</text><path d="M461.10,287.93H462.90" stroke="#333" stroke-width="0.9"/><text transform="translate(461.20,290.13) scale(0.1)" font-size="44" text-anchor="end" font-weight="bold" fill="#333">10</text><path d="M461.10,269.80H462.90" stroke="#333" stroke-width="0.9"/><text transform="translate(461.20,272.00) scale(0.1)" font-size="44" text-anchor="end" font-weight="bold" fill="#333">15</text><path d="M469.75,324.20V326.00" stroke="#333" stroke-width="0.9"/><text transform="translate(471.05,331.30) rotate(-45)" font-size="6.6" text-anchor="end" font-weight="bold">IL2</text><path d="M483.30,324.20V326.00" stroke="#333" stroke-width="0.9"/><text transform="translate(484.60,331.30) rotate(-45)" font-size="6.6" text-anchor="end" font-weight="bold">IL17α</text><path d="M496.85,324.20V326.00" stroke="#333" stroke-width="0.9"/><text transform="translate(498.15,331.30) rotate(-45)" font-size="6.6" text-anchor="end" font-weight="bold">TNFα</text><path d="M510.40,324.20V326.00" stroke="#333" stroke-width="0.9"/><text transform="translate(511.70,331.30) rotate(-45)" font-size="6.6" text-anchor="end" font-weight="bold">IFNγ</text><text transform="translate(453.30,292.30) rotate(-90)" font-size="5.8" text-anchor="middle" font-weight="bold">% CD4 T cells</text><rect x="465.50" y="376.80" width="8.50" height="17.90" fill="url(#pIL2)" stroke="#484848" stroke-width="1.15"/><rect x="492.60" y="371.40" width="8.50" height="23.30" fill="url(#pTNF)" stroke="#111" stroke-width="1.15"/><rect x="506.15" y="378.90" width="8.50" height="15.80" fill="url(#pIFN)" stroke="#111" stroke-width="1.15"/><path d="M462.90,340.50V394.70H517.05" fill="none" stroke="#444" stroke-width="1.1"/><path d="M461.10,394.70H462.90" stroke="#333" stroke-width="0.9"/><text transform="translate(461.20,396.90) scale(0.1)" font-size="44" text-anchor="end" font-weight="bold" fill="#333">0</text><path d="M461.10,376.63H462.90" stroke="#333" stroke-width="0.9"/><text transform="translate(461.20,378.83) scale(0.1)" font-size="44" text-anchor="end" font-weight="bold" fill="#333">5</text><path d="M461.10,358.57H462.90" stroke="#333" stroke-width="0.9"/><text transform="translate(461.20,360.77) scale(0.1)" font-size="44" text-anchor="end" font-weight="bold" fill="#333">10</text><path d="M461.10,340.50H462.90" stroke="#333" stroke-width="0.9"/><text transform="translate(461.20,342.70) scale(0.1)" font-size="44" text-anchor="end" font-weight="bold" fill="#333">15</text><path d="M469.75,394.70V396.50" stroke="#333" stroke-width="0.9"/><text transform="translate(471.05,401.80) rotate(-45)" font-size="6.6" text-anchor="end" font-weight="bold">IL2</text><path d="M483.30,394.70V396.50" stroke="#333" stroke-width="0.9"/><text transform="translate(484.60,401.80) rotate(-45)" font-size="6.6" text-anchor="end" font-weight="bold">IL17α</text><path d="M496.85,394.70V396.50" stroke="#333" stroke-width="0.9"/><text transform="translate(498.15,401.80) rotate(-45)" font-size="6.6" text-anchor="end" font-weight="bold">TNFα</text><path d="M510.40,394.70V396.50" stroke="#333" stroke-width="0.9"/><text transform="translate(511.70,401.80) rotate(-45)" font-size="6.6" text-anchor="end" font-weight="bold">IFNγ</text><text transform="translate(453.30,362.90) rotate(-90)" font-size="5.8" text-anchor="middle" font-weight="bold">% CD4 T cells</text><rect x="465.50" y="459.60" width="8.50" height="9.80" fill="url(#pIL2)" stroke="#484848" stroke-width="1.15"/><rect x="479.05" y="468.30" width="8.50" height="1.10" fill="#222" stroke="#111" stroke-width="1.15"/><rect x="492.60" y="453.70" width="8.50" height="15.70" fill="url(#pTNF)" stroke="#111" stroke-width="1.15"/><rect x="506.15" y="422.90" width="8.50" height="46.50" fill="url(#pIFN)" stroke="#111" stroke-width="1.15"/><path d="M462.90,415.00V469.40H517.05" fill="none" stroke="#444" stroke-width="1.1"/><path d="M461.10,469.40H462.90" stroke="#333" stroke-width="0.9"/><text transform="translate(461.20,471.60) scale(0.1)" font-size="44" text-anchor="end" font-weight="bold" fill="#333">0</text><path d="M461.10,451.27H462.90" stroke="#333" stroke-width="0.9"/><text transform="translate(461.20,453.47) scale(0.1)" font-size="44" text-anchor="end" font-weight="bold" fill="#333">5</text><path d="M461.10,433.13H462.90" stroke="#333" stroke-width="0.9"/><text transform="translate(461.20,435.33) scale(0.1)" font-size="44" text-anchor="end" font-weight="bold" fill="#333">10</text><path d="M461.10,415.00H462.90" stroke="#333" stroke-width="0.9"/><text transform="translate(461.20,417.20) scale(0.1)" font-size="44" text-anchor="end" font-weight="bold" fill="#333">15</text><path d="M469.75,469.40V471.20" stroke="#333" stroke-width="0.9"/><text transform="translate(471.05,476.50) rotate(-45)" font-size="6.6" text-anchor="end" font-weight="bold">IL2</text><path d="M483.30,469.40V471.20" stroke="#333" stroke-width="0.9"/><text transform="translate(484.60,476.50) rotate(-45)" font-size="6.6" text-anchor="end" font-weight="bold">IL17α</text><path d="M496.85,469.40V471.20" stroke="#333" stroke-width="0.9"/><text transform="translate(498.15,476.50) rotate(-45)" font-size="6.6" text-anchor="end" font-weight="bold">TNFα</text><path d="M510.40,469.40V471.20" stroke="#333" stroke-width="0.9"/><text transform="translate(511.70,476.50) rotate(-45)" font-size="6.6" text-anchor="end" font-weight="bold">IFNγ</text><text transform="translate(453.30,437.50) rotate(-90)" font-size="5.8" text-anchor="middle" font-weight="bold">% CD4 T cells</text>

<text x="95" y="23.7" font-size="16" font-weight="bold">Week 0</text>
<text x="244.7" y="71.6" font-size="16" font-weight="bold">Week 12</text>
<text x="393.8" y="71.6" font-size="16" font-weight="bold">Week 48</text>
<text x="254.6" y="12.45" font-size="12.52" font-weight="bold">Number of Cytokines produced by</text>
<text x="254.4" y="26.0" font-size="12.35" font-weight="bold" xml:space="preserve">CD4 T cells after  PMA/ionomycin stimulation</text>
<text x="25.5" y="77.3" font-size="15.6" font-weight="bold" text-anchor="middle">HC</text>
<text x="25.3" y="96.4" font-size="16.3" font-weight="bold" text-anchor="middle">(n=6)</text>
<text x="0.2" y="161.9" font-size="16" font-weight="bold">10-001</text>
<text x="0.4" y="239.3" font-size="16" font-weight="bold">10-002</text>
<text x="0.2" y="311.3" font-size="16" font-weight="bold">10-003</text>
<text x="0.2" y="383.5" font-size="16" font-weight="bold">10-005</text>
<text x="0.2" y="449" font-size="16" font-weight="bold">10-006</text>

<rect x="209.9" y="2.60" width="9.7" height="4.9" fill="#ffffff" stroke="#1a1a1a" stroke-width="1.2"/><text x="224.0" y="7.60" font-size="6.9" font-weight="bold" fill="#333">0</text><rect x="209.9" y="11.90" width="9.7" height="4.9" fill="#ffff00" stroke="#1a1a1a" stroke-width="1.2"/><text x="224.0" y="16.90" font-size="6.9" font-weight="bold" fill="#333">1</text><rect x="209.9" y="22.60" width="9.7" height="4.9" fill="#10f6f8" stroke="#1a1a1a" stroke-width="1.2"/><text x="224.0" y="27.90" font-size="6.9" font-weight="bold" fill="#333">2</text><rect x="209.9" y="32.90" width="9.7" height="4.9" fill="#000" stroke="#1a1a1a" stroke-width="1.2"/><text x="224.0" y="38.00" font-size="6.9" font-weight="bold" fill="#333">3</text>
</svg></body></html>
